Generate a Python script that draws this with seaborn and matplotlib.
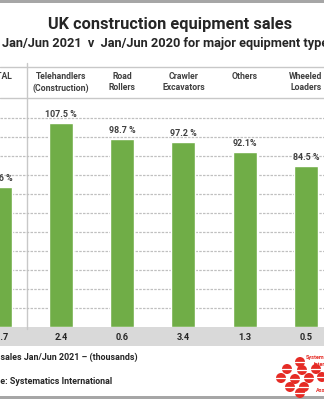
import matplotlib
matplotlib.use("Agg")
import matplotlib.pyplot as plt
import matplotlib.transforms as mtransforms
from matplotlib.patches import Circle, Rectangle
import seaborn as sns
import pandas as pd

categories = ["TOTAL", "Telehandlers\n(Construction)", "Road\nRollers",
              "Crawler\nExcavators", "Others", "Wheeled\nLoaders"]
growth = [73.6, 107.5, 98.7, 97.2, 92.1, 84.5]
growth_labels = ["73.6 %", "107.5 %", "98.7 %", "97.2 %", "92.1%", "84.5 %"]
sales = ["18.7", "2.4", "0.6", "3.4", "1.3", "0.5"]

title = "UK construction equipment sales"
subtitle = "Jan/Jun 2021  v  Jan/Jun 2020 for major equipment types"
foot1 = "Total sales Jan/Jun 2021 \u2013 (thousands)"
foot2 = "Source: Systematics International"

sns.set_theme(style="white")
plt.rcParams["font.family"] = ["Roboto", "DejaVu Sans"]

W, H = 324, 400
fig = plt.figure(figsize=(W / 100, H / 100), dpi=100)
fig.patch.set_facecolor("white")

bg = fig.add_axes([0, 0, 1, 1], zorder=0)
bg.set_xlim(0, W)
bg.set_ylim(H, 0)
bg.axis("off")

GREEN = "#70ad47"
TXT = "#404040"
DARK = "#262626"
LINE = "#c8c8c8"

top_px, bot_px = 100, 327
ax = fig.add_axes([0, (H - bot_px) / H, 1, (bot_px - top_px) / H], zorder=1)
ax.patch.set_alpha(0)
df = pd.DataFrame({"category": categories, "growth": growth})
sns.barplot(data=df, x="category", y="growth", color=GREEN, saturation=1,
            width=0.39, ax=ax)
ax.set_xlim(0.2 / 61.2, 5 + (W - 305.8) / 61.2)
ax.set_ylim(0, (bot_px - top_px) / 1.9)
ax.set_yticks(range(10, 120, 10))
ax.yaxis.grid(True, color="#c0c0c0", linestyle=(0, (2, 1)), linewidth=0.9)
ax.set_axisbelow(True)
ax.tick_params(left=False, bottom=False, labelleft=False, labelbottom=False)
ax.set_xlabel("")
ax.set_ylabel("")
for s in ax.spines.values():
    s.set_visible(False)

for i, (v, lab) in enumerate(zip(growth, growth_labels)):
    ax.annotate(lab, (i, v), xytext=(0, 3), textcoords="offset points",
                ha="center", va="bottom", fontsize=6.4, fontweight="bold",
                color=TXT)

bg.add_patch(Rectangle((0, 0), W, 3, color="#a6a6a6", lw=0))
bg.add_patch(Rectangle((0, 396), W, 3, color="#a6a6a6", lw=0))
bg.plot([0, W], [67, 67], color=LINE, lw=1)
bg.plot([0, W], [98, 98], color=LINE, lw=1)
bg.add_patch(Rectangle((0, bot_px), W, 19, color="#d9d9d9", lw=0))

blend = mtransforms.blended_transform_factory(ax.transData, bg.transData)
bg.plot([27, 27], [63, bot_px + 2], color=LINE, lw=1)

for i, (c, s) in enumerate(zip(categories, sales)):
    bg.text(i, 72, c, transform=blend, ha="center", va="top", fontsize=6.2,
            fontweight="bold", color=TXT, linespacing=1.3)
    bg.text(i, 337, s, transform=blend, ha="center", va="center",
            fontsize=6.6, fontweight="bold", color=DARK)

bg.text(170, 24, title, ha="center", va="center", fontsize=11.8,
        fontweight="bold", color=DARK)
bg.text(2, 44, subtitle, ha="left", va="center", fontsize=9.2,
        fontweight="bold", color=DARK)

fig.canvas.draw()
renderer = fig.canvas.get_renderer()


def place_cropped(full, visible_from, y):
    prefix = full[:full.index(visible_from)]
    t = bg.text(0, y, prefix, ha="left", va="center", fontsize=6.4,
                fontweight="bold", color=DARK)
    w = t.get_window_extent(renderer).width
    t.remove()
    bg.text(-w, y, full, ha="left", va="center", fontsize=6.4,
            fontweight="bold", color=DARK)


place_cropped(foot1, "sales", 357)
place_cropped(foot2, "e:", 382)

RED = "#e52b25"
circles = [(300, 362), (287, 369), (302, 370), (316, 369),
           (281, 378), (295, 379), (309, 378), (322, 377),
           (290, 387), (304, 387), (300, 393)]
for cx, cy in circles:
    bg.add_patch(Circle((cx, cy), 5.0, color=RED, lw=0))
    bg.plot([cx - 5.0, cx + 5.0], [cy, cy], color="white", lw=0.9)
bg.text(306, 358, "Systematics", fontsize=4.0, fontweight="bold", color=RED,
        va="center", ha="left")
bg.text(314, 365, "International", fontsize=4.0, fontweight="bold", color=RED,
        va="center", ha="left")
bg.text(316, 391, "Associates", fontsize=4.0, fontweight="bold", color=RED,
        va="center", ha="left")

fig.savefig("out.png", dpi=100, facecolor="white")
